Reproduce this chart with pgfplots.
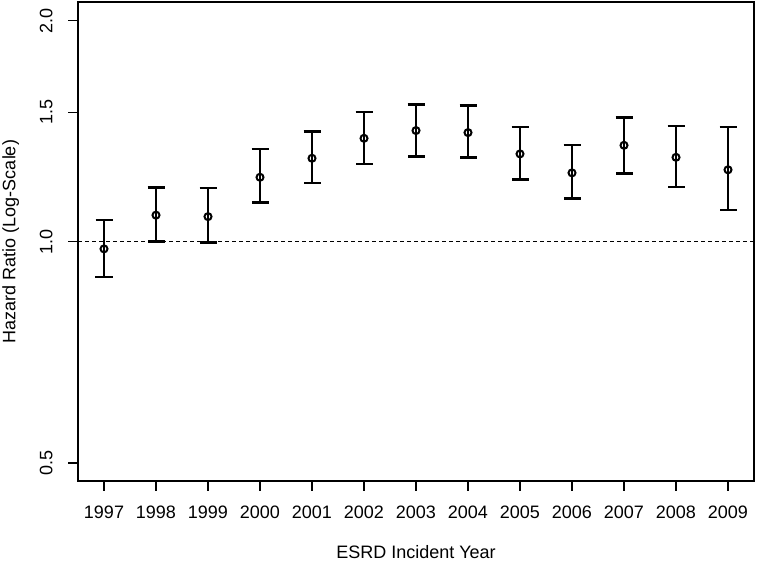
\documentclass[border=0pt]{standalone}
\usepackage{fontspec}
\setmainfont{Liberation Sans}
\usepackage{pgfplots}
\pgfplotsset{compat=1.18}
\usepackage{pgfplotstable}

% hazard ratio by ESRD incident year, with 95% CI
\pgfplotstableread{
year  hr     lo     hi
1997  0.978  0.896  1.071
1998  1.087  1.000  1.186
1999  1.082  0.997  1.183
2000  1.224  1.130  1.337
2001  1.299  1.202  1.414
2002  1.383  1.276  1.501
2003  1.417  1.306  1.539
2004  1.408  1.302  1.532
2005  1.317  1.215  1.433
2006  1.241  1.145  1.354
2007  1.353  1.238  1.475
2008  1.303  1.187  1.437
2009  1.253  1.104  1.432
}\hrdata

\newcommand{\rfont}{\fontsize{9}{10}\selectfont}

\begin{document}
\begin{tikzpicture}
\begin{axis}[
  scale only axis,
  width=338pt, height=239.5pt,
  xmin=1996.5, xmax=2009.5,
  ymode=log,
  ymin=0.4725, ymax=2.12,
  xtick={1997,...,2009},
  ytick={0.5,1,1.5,2},
  yticklabels={{0.5},{1.0},{1.5},{2.0}},
  /pgf/number format/1000 sep={},
  /pgf/number format/assume math mode=true,
  tick pos=left,
  tick align=outside,
  major tick length=5pt,
  tick style={black, line width=0.6pt},
  axis line style={line width=0.6pt},
  tick label style={font=\rfont, inner sep=0pt},
  xticklabel style={anchor=north, yshift=-7.5pt},
  yticklabel style={rotate=90, anchor=south},
  yticklabel shift=7.5pt,
  label style={font=\rfont, inner sep=0pt},
  xlabel={ESRD Incident Year},
  ylabel={Hazard Ratio (Log-Scale)},
  xlabel style={at={(axis description cs:0.5,-0.134)}, anchor=north},
  ylabel style={at={(axis description cs:-0.1124,0.5)}, anchor=north},
  clip=false,
]
\addplot[black, line width=0.5pt, dash pattern=on 2pt off 1.5pt]
  coordinates {(1996.5,1) (2009.5,1)};
\addplot[
  only marks, black,
  mark=o, mark size=1.75pt,
  mark options={line width=1pt, fill=white},
  error bars/.cd,
    y dir=both, y explicit,
    error bar style={line width=1.3pt},
    error mark options={line width=1.3pt, mark size=4.25pt, rotate=90},
] table[
  x=year, y=hr,
  y error plus expr=\thisrow{hi}-\thisrow{hr},
  y error minus expr=\thisrow{hr}-\thisrow{lo},
] {\hrdata};
\end{axis}
\pgfresetboundingbox
\path[use as bounding box]
  ([shift={(-39pt,-39.5pt)}]current axis.south west)
  rectangle ([shift={(1.5pt,1pt)}]current axis.north east);
\end{tikzpicture}
\end{document}
